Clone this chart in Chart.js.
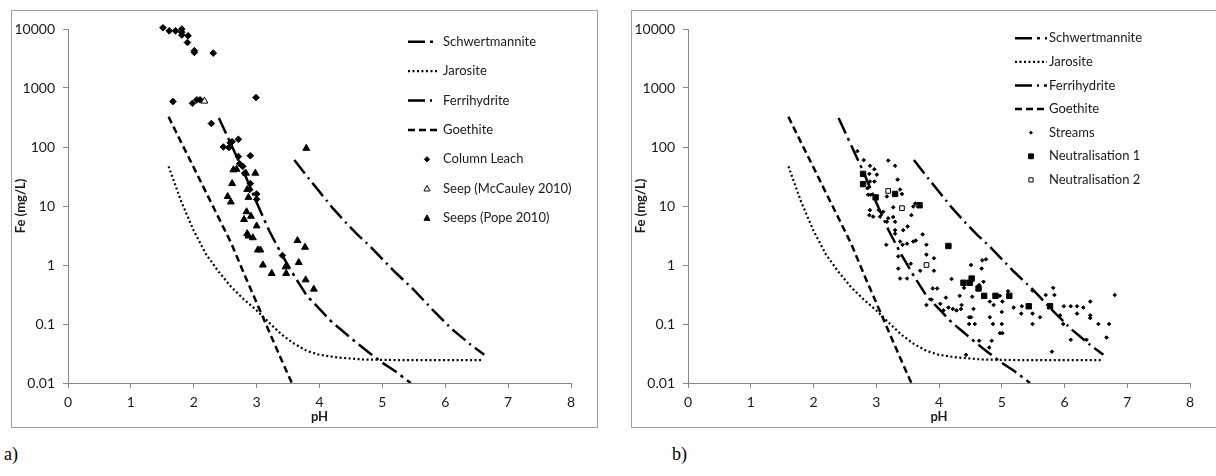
<!DOCTYPE html>
<html>
<head>
<meta charset="utf-8">
<script src="https://cdn.jsdelivr.net/npm/chart.js@4/dist/chart.umd.min.js"></script>
<style>
  body { margin: 0; background: #fff; width: 1216px; height: 476px; overflow: hidden; position: relative; }
  .frame { position: absolute; top: 10px; height: 418px; border: 1px solid #a0a0a0; box-sizing: border-box; }
  .box { position: absolute; top: 11px; width: 585px; height: 416px; }
  .tag { position: absolute; top: 444px; font: 18px "Liberation Serif", serif; color: #000; }
</style>
</head>
<body>
<div class="frame" style="left:11px; width:587px"></div>
<div class="frame" style="left:631px; width:590px"></div>
<div class="box" style="left:12px"><canvas id="chartA"></canvas></div>
<div class="box" style="left:632px"><canvas id="chartB"></canvas></div>
<div class="tag" style="left:4px">a)</div>
<div class="tag" style="left:672px">b)</div>
<script>
// Fe vs pH — curvas de solubilidad de minerales + muestras (escala log)

const yTicks = [0.01, 0.1, 1, 10, 100, 1000, 10000];

// curvas de equilibrio (pH, Fe mg/L)
const schwPh = [2.4, 2.6, 2.8, 3.0, 3.2, 3.4, 3.6, 3.8, 4.0, 4.2, 4.4, 4.6, 4.8, 5.0, 5.2, 5.45];
const schwFe = [310, 107, 37, 11.5, 3.8, 1.5, 0.65, 0.30, 0.18, 0.107, 0.071, 0.047, 0.032, 0.022, 0.016, 0.010];
const jaroPh = [1.6, 1.8, 2.0, 2.2, 2.4, 2.6, 2.8, 3.0, 3.2, 3.4, 3.6, 3.8, 4.0, 4.3, 4.7, 5.2, 6.6];
const jaroFe = [47, 12, 3.8, 1.5, 0.76, 0.42, 0.26, 0.17, 0.105, 0.066, 0.046, 0.035, 0.030, 0.027, 0.025, 0.0245, 0.0245];
const ferriPh = [3.6, 3.8, 4.0, 4.2, 4.4, 4.6, 4.8, 5.0, 5.2, 5.5, 5.8, 6.1, 6.4, 6.62];
const ferriFe = [60, 32, 17.4, 9.5, 5.5, 3.3, 2.1, 1.26, 0.76, 0.38, 0.174, 0.083, 0.045, 0.030];
const goePh = [1.6, 1.8, 2.0, 2.2, 2.4, 2.6, 2.8, 3.0, 3.2, 3.4, 3.56];
const goeFe = [325, 120, 45, 16.6, 6.2, 2.3, 0.71, 0.23, 0.074, 0.024, 0.010];

// a) muestras
const leachPh = [1.51, 1.61, 1.71, 1.81, 1.81, 1.81, 1.91, 1.90, 2.01, 2.01, 2.31, 1.67, 1.98, 2.05, 2.10, 2.99,
  2.28, 2.47, 2.56, 2.58, 2.61, 2.71, 2.71, 2.90, 2.73, 2.78, 2.81, 2.90, 2.89, 3.00, 3.00, 3.41];
const leachFe = [10500, 9300, 9300, 10000, 8800, 7900, 7700, 5900, 4300, 4000, 3900, 590, 550, 630, 630, 690,
  250, 100, 98, 118, 123, 135, 69, 71, 52, 47, 36, 24, 19, 16, 13, 1.45];
const mccPh = [2.17];
const mccFe = [600];
const popePh = [3.79, 2.63, 2.68, 2.83, 2.98, 2.61, 2.85, 2.87, 2.54, 2.59, 2.84, 2.91, 2.80, 3.00, 2.85, 2.87,
  2.94, 3.02, 3.06, 3.10, 3.24, 3.46, 3.47, 3.65, 3.77, 3.67, 3.78, 3.91];
const popeFe = [95, 41, 42, 36, 36, 24, 19, 14, 14.5, 11.7, 8, 6.7, 5.9, 4.6, 3.4, 3.1,
  2.9, 1.8, 1.8, 1.0, 0.72, 0.93, 0.72, 2.6, 2.0, 1.1, 0.56, 0.39];

// b) muestras
const streamPh = [2.70, 2.80, 2.90, 2.97, 3.01, 2.89, 2.97, 2.90, 2.86, 2.91, 2.87, 3.19, 3.30, 3.34, 3.17, 3.38,
  3.41, 3.27, 2.90, 2.89, 2.95, 3.04, 3.11, 3.06, 3.19, 3.27, 3.30, 3.17, 3.59, 3.62, 3.56, 3.30,
  3.30, 3.43, 3.50, 3.38, 3.42, 3.49, 3.59, 3.63, 3.74, 3.16, 3.80, 3.80, 3.35, 3.55, 3.92, 3.35,
  3.70, 3.92, 3.38, 3.49, 4.20, 3.90, 3.97, 4.51, 4.40, 4.11, 3.80, 4.02, 4.15, 4.22, 4.28, 4.35,
  4.36, 4.55, 4.48, 4.48, 4.57, 4.43, 4.07, 3.88, 4.69, 4.68, 4.75, 4.33, 4.71, 4.64, 4.81, 4.87,
  4.97, 5.01, 5.00, 5.10, 5.19, 5.32, 5.31, 5.49, 5.61, 4.81, 4.86, 5.00, 4.97, 5.01, 4.51, 4.64,
  4.80, 4.84, 5.70, 5.82, 5.84, 5.93, 5.99, 6.10, 6.20, 6.30, 6.41, 6.41, 6.41, 6.20, 5.98, 6.10,
  6.35, 6.54, 6.71, 6.67, 6.80, 5.80, 4.53, 5.49, 5.49];
const streamFe = [85, 60, 48, 42, 34, 35, 26, 26, 20, 15.5, 15.5, 59, 48, 28, 14.5, 19,
  16, 9.5, 8.5, 7, 6.6, 8.5, 8, 6.6, 6.2, 6.5, 5.4, 5.4, 9.8, 11, 7, 3.9,
  3.4, 3.9, 4.5, 2.5, 2.2, 2.3, 2.5, 2.6, 3.3, 2.2, 2.2, 1.5, 1.4, 1.05, 1.3, 0.87,
  0.8, 0.8, 0.59, 0.59, 0.58, 0.40, 0.40, 1.0, 0.41, 0.28, 0.21, 0.22, 0.19, 0.18, 0.17, 0.18,
  0.21, 0.18, 0.13, 0.10, 0.10, 0.03, 0.17, 0.26, 1.2, 0.87, 1.25, 0.30, 0.52, 0.46, 0.24, 0.21,
  0.30, 0.24, 0.16, 0.36, 0.19, 0.20, 0.15, 0.15, 0.13, 0.13, 0.10, 0.10, 0.07, 0.07, 0.13, 0.052,
  0.04, 0.052, 0.31, 0.41, 0.31, 0.14, 0.20, 0.20, 0.20, 0.19, 0.24, 0.14, 0.126, 0.15, 0.10, 0.054,
  0.054, 0.10, 0.10, 0.059, 0.31, 0.034, 0.29, 0.37, 0.10];
const neut1Ph = [2.79, 2.79, 2.99, 3.30, 3.69, 4.15, 4.39, 4.49, 4.52, 4.63, 4.72, 4.90, 5.12, 5.43, 5.77];
const neut1Fe = [35, 23.5, 14, 16, 10.3, 2.1, 0.5, 0.5, 0.59, 0.4, 0.3, 0.3, 0.3, 0.2, 0.2];
const neut2Ph = [3.19, 3.41, 3.80];
const neut2Fe = [18, 9.2, 1.0];

const pts = (xs, ys) => xs.map((x, i) => ({ x, y: ys[i] }));

function curva(label, xs, ys, dash, width) {
  return { label, data: pts(xs, ys), showLine: true, borderColor: "#000", borderWidth: width,
    borderDash: dash, pointRadius: 0, tension: 0, fill: false };
}
function marcas(label, xs, ys, style, r, fill) {
  return { label, data: pts(xs, ys), showLine: false, pointStyle: style, pointRadius: r,
    pointBackgroundColor: fill, pointBorderColor: "#000", pointBorderWidth: 1, clip: false };
}
function curvas() {
  return [
    curva("Schwertmannite", schwPh, schwFe, [17, 5, 3, 5], 2.5),
    curva("Jarosite", jaroPh, jaroFe, [2, 2.5], 2.2),
    curva("Ferrihydrite", ferriPh, ferriFe, [17, 5, 2, 5], 2.5),
    curva("Goethite", goePh, goeFe, [7, 4], 2.5),
  ];
}

// leyenda dibujada dentro del área del gráfico
function marker(ctx, style, x, y, r, fill) {
  ctx.beginPath();
  if (style === "rectRot") { ctx.moveTo(x, y - r); ctx.lineTo(x + r, y); ctx.lineTo(x, y + r); ctx.lineTo(x - r, y); }
  else if (style === "triangle") { ctx.moveTo(x, y - r); ctx.lineTo(x + r * 0.95, y + r * 0.7); ctx.lineTo(x - r * 0.95, y + r * 0.7); }
  else { ctx.rect(x - r * 0.8, y - r * 0.8, r * 1.6, r * 1.6); }
  ctx.closePath();
  ctx.fillStyle = fill; ctx.fill();
  ctx.lineWidth = 1; ctx.strokeStyle = "#000"; ctx.stroke();
}
const leyenda = {
  id: "leyenda",
  afterDraw(chart, args, o) {
    const ctx = chart.ctx;
    ctx.save();
    ctx.font = "13px Lato";
    ctx.textBaseline = "middle";
    chart.data.datasets.forEach((ds, i) => {
      const y = o.y0 + i * o.step;
      if (ds.showLine) {
        ctx.beginPath();
        ctx.setLineDash(ds.borderDash);
        ctx.lineWidth = ds.borderWidth;
        ctx.strokeStyle = "#000";
        ctx.moveTo(o.x0, y); ctx.lineTo(o.x1, y); ctx.stroke();
        ctx.setLineDash([]);
      } else {
        marker(ctx, ds.pointStyle, o.xm, y, ds.pointRadius * 0.8, ds.pointBackgroundColor);
      }
      ctx.fillStyle = "#1a1a1a";
      ctx.fillText(ds.label, o.xt, y);
    });
    ctx.restore();
  },
};

function opciones(padRight, leg) {
  const grid = { display: true, drawOnChartArea: false, drawTicks: true, tickLength: 5, color: "#868686" };
  const border = { display: true, color: "#868686", width: 1 };
  const ticks = { color: "#1a1a1a", font: { size: 14 } };
  return {
    responsive: true,
    maintainAspectRatio: false,
    animation: false,
    layout: { padding: { left: 0, top: 18, right: padRight, bottom: 0 } },
    plugins: { legend: { display: false }, tooltip: { enabled: false }, leyenda: leg },
    scales: {
      x: {
        type: "linear", min: 0, max: 8, grid, border,
        ticks: { ...ticks, stepSize: 1, padding: 6 },
        title: { display: true, text: "pH", color: "#1a1a1a", font: { size: 13, weight: "bold" }, padding: { top: 0, bottom: 2 } },
        afterFit: (s) => { s.height = 44; },
      },
      y: {
        type: "logarithmic", min: 0.01, max: 10000, grid, border,
        ticks: { ...ticks, padding: 8, callback: (v) => String(v) },
        afterBuildTicks: (s) => { s.ticks = yTicks.map((v) => ({ value: v })); },
        title: { display: true, text: "Fe (mg/L)", color: "#1a1a1a", font: { size: 13, weight: "bold" }, padding: { top: 1, bottom: 0 } },
        afterFit: (s) => { s.width = 56; },
      },
    },
  };
}

Chart.defaults.font.family = "Lato";

new Chart(document.getElementById("chartA"), {
  type: "scatter",
  data: {
    datasets: [
      ...curvas(),
      marcas("Column Leach", leachPh, leachFe, "rectRot", 3.3, "#000"),
      marcas("Seep (McCauley 2010)", mccPh, mccFe, "triangle", 4, "#fff"),
      marcas("Seeps (Pope 2010)", popePh, popeFe, "triangle", 4, "#000"),
    ],
  },
  options: opciones(26, { x0: 396, x1: 425, xm: 415, xt: 431, y0: 30.7, step: 29.4 }),
  plugins: [leyenda],
});

new Chart(document.getElementById("chartB"), {
  type: "scatter",
  data: {
    datasets: [
      ...curvas(),
      marcas("Streams", streamPh, streamFe, "rectRot", 1.8, "#000"),
      marcas("Neutralisation 1", neut1Ph, neut1Fe, "rect", 3.8, "#000"),
      marcas("Neutralisation 2", neut2Ph, neut2Fe, "rect", 3.3, "#fff"),
    ],
  },
  options: opciones(27, { x0: 383, x1: 415, xm: 399, xt: 417, y0: 27.3, step: 23.6 }),
  plugins: [leyenda],
});
</script>
</body>
</html>
